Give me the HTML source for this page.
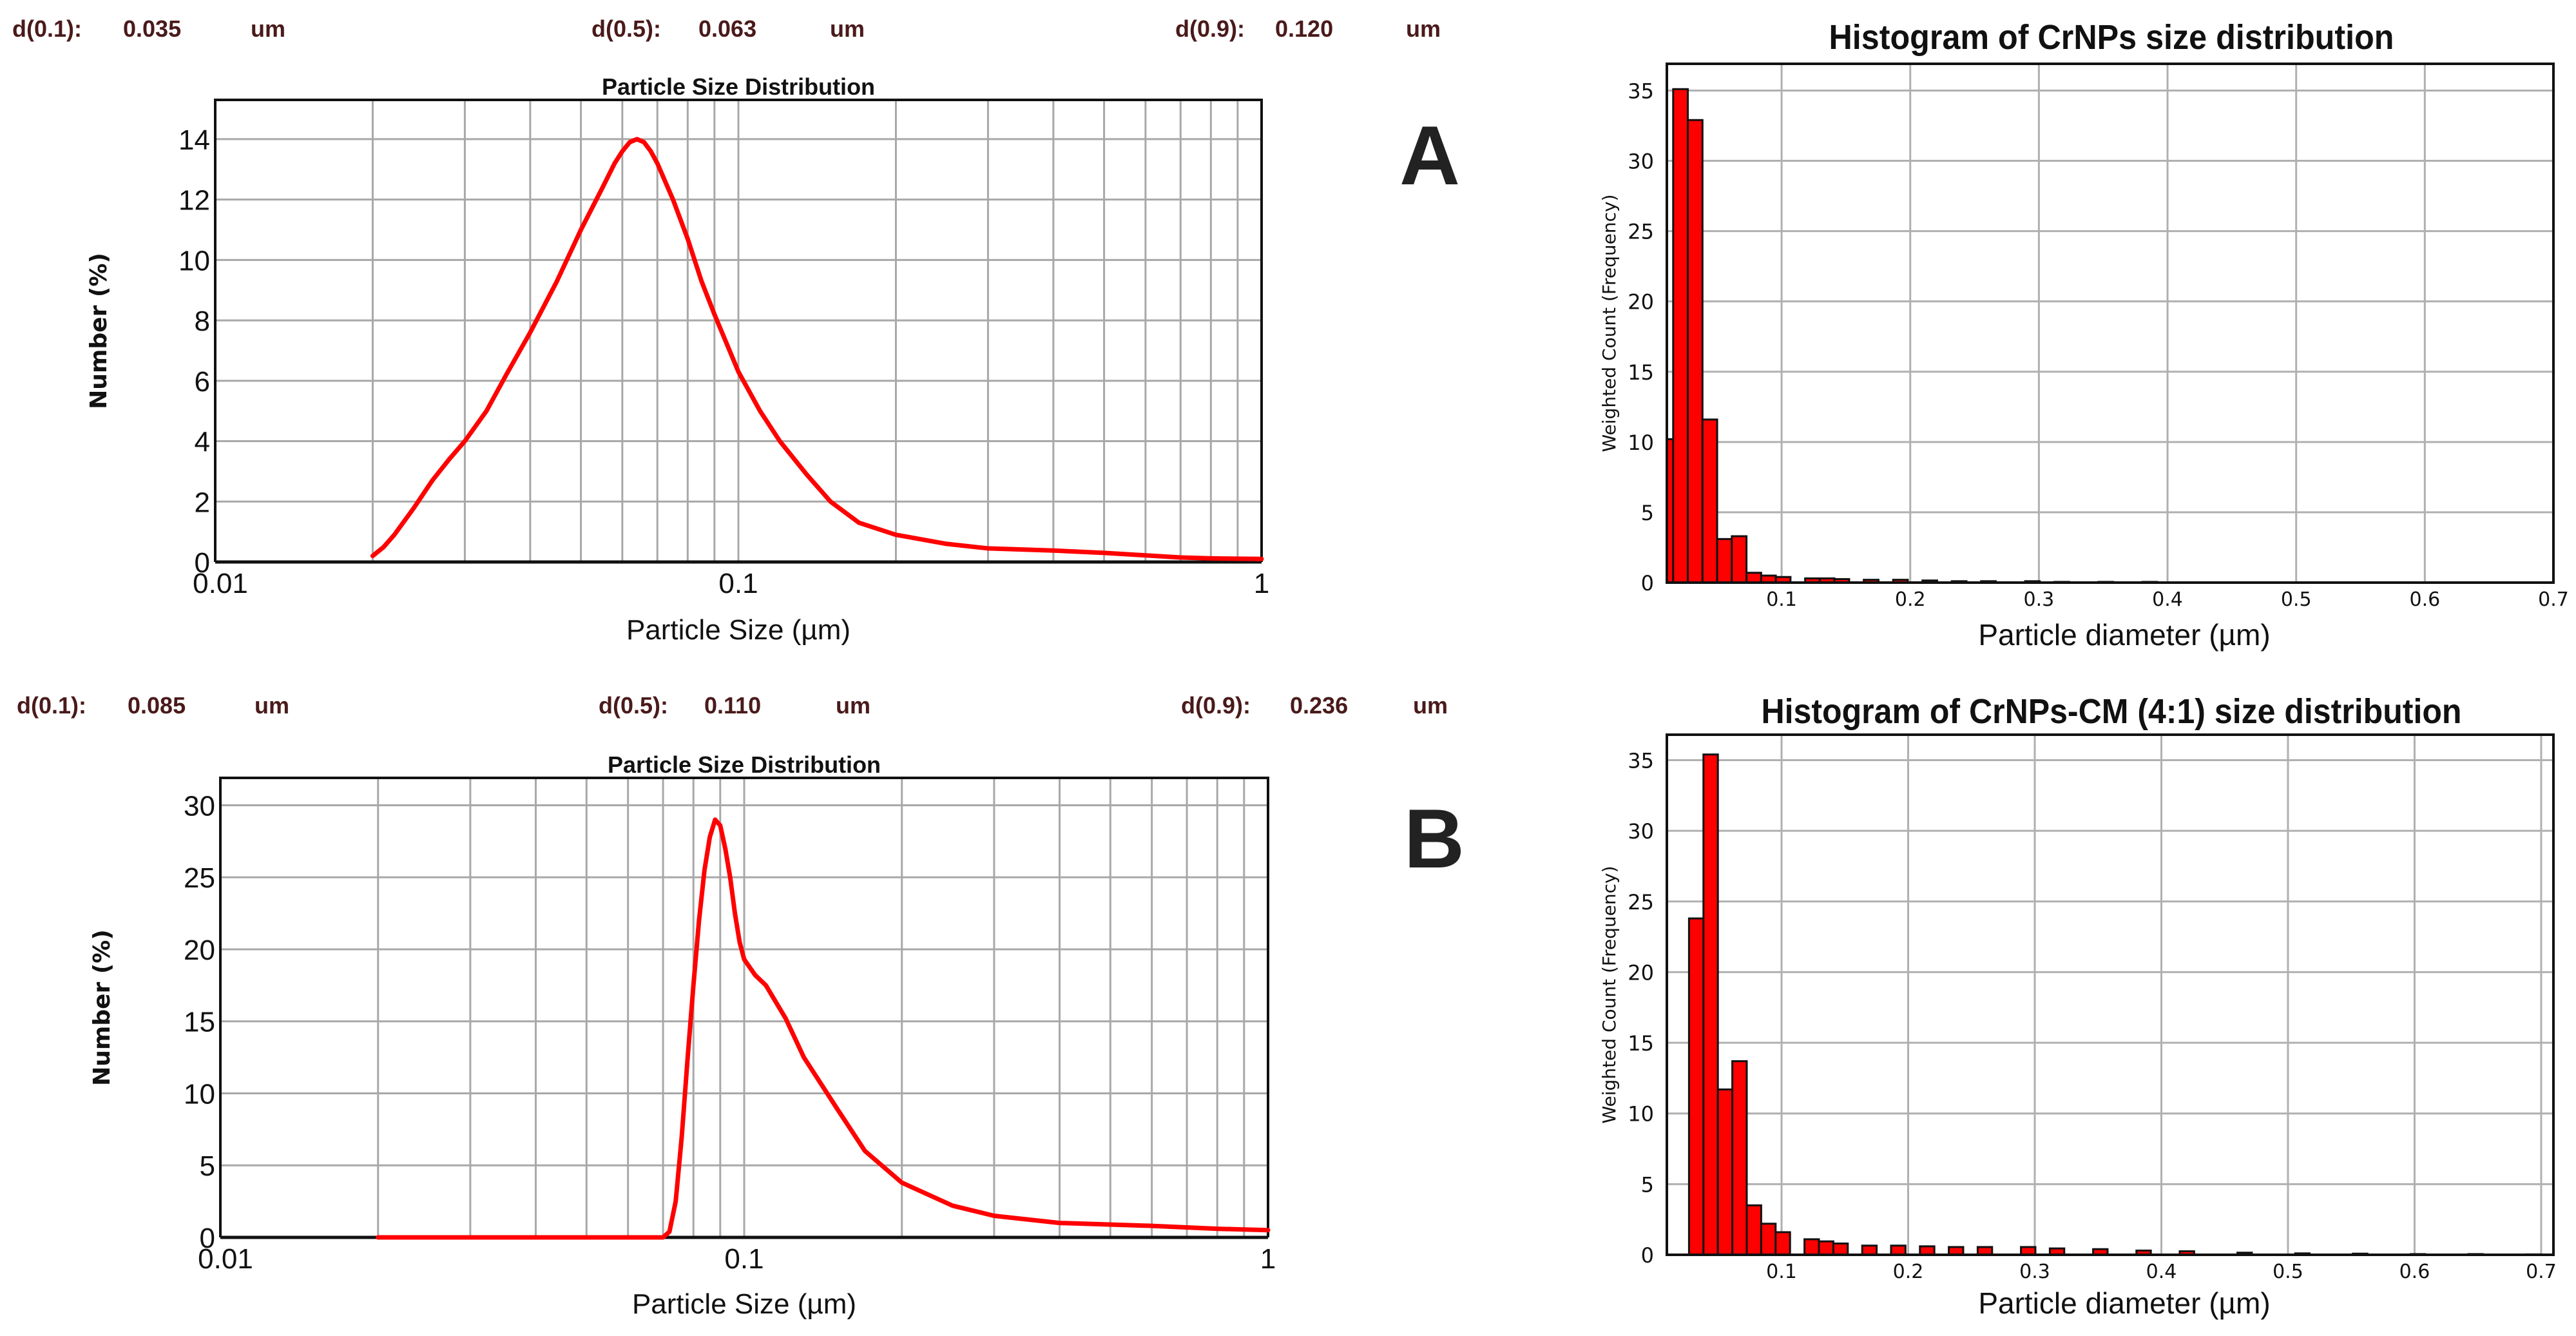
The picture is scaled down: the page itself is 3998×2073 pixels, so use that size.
<!DOCTYPE html>
<html><head><meta charset="utf-8"><style>
html,body{margin:0;padding:0;background:#fff}
svg{display:block}
.nar{font-family:"Liberation Sans Narrow","Liberation Sans",sans-serif}
</style></head><body>
<svg id="fig" width="3998" height="2073" viewBox="0 0 3998 2073" xmlns="http://www.w3.org/2000/svg">
<rect width="3998" height="2073" fill="#fff"/>
<g class="nar" fill="#4a1a1a" font-weight="bold" font-size="36">
<text x="19" y="57">d(0.1):</text><text x="191" y="57">0.035</text><text x="389" y="57">um</text>
<text x="918" y="57">d(0.5):</text><text x="1084" y="57">0.063</text><text x="1288" y="57">um</text>
<text x="1824" y="57">d(0.9):</text><text x="1979" y="57">0.120</text><text x="2182" y="57">um</text>
</g>
<g class="nar" fill="#4a1a1a" font-weight="bold" font-size="36">
<text x="26" y="1107">d(0.1):</text><text x="198" y="1107">0.085</text><text x="395" y="1107">um</text>
<text x="929" y="1107">d(0.5):</text><text x="1093" y="1107">0.110</text><text x="1297" y="1107">um</text>
<text x="1833" y="1107">d(0.9):</text><text x="2002" y="1107">0.236</text><text x="2193" y="1107">um</text>
</g>
<text x="2219" y="286" font-family="Liberation Sans,sans-serif" font-weight="bold" font-size="130" fill="#222" text-anchor="middle">A</text>
<text x="2226" y="1346" font-family="Liberation Sans,sans-serif" font-weight="bold" font-size="130" fill="#222" text-anchor="middle">B</text>
</svg>
<script>
// ---- data ----
const psdAx = [0.02,0.021,0.022,0.024,0.026,0.028,0.03,0.033,0.036,0.04,0.045,0.05,0.055,0.058,0.06,0.062,0.064,0.066,0.068,0.07,0.075,0.08,0.085,0.09,0.1,0.11,0.12,0.135,0.15,0.17,0.2,0.25,0.3,0.4,0.5,0.6,0.7,0.8,1.0];
const psdAy = [0.2,0.5,0.9,1.8,2.7,3.4,4.0,5.0,6.2,7.6,9.3,11.0,12.4,13.2,13.6,13.9,14.0,13.9,13.6,13.2,12.0,10.7,9.3,8.2,6.3,5.0,4.0,2.9,2.0,1.3,0.9,0.6,0.45,0.38,0.3,0.22,0.15,0.12,0.1];
const psdBx = [0.02,0.03,0.05,0.07,0.072,0.074,0.076,0.078,0.08,0.082,0.084,0.086,0.088,0.09,0.092,0.094,0.096,0.098,0.1,0.105,0.11,0.12,0.13,0.15,0.17,0.2,0.25,0.3,0.4,0.6,0.8,1.0];
const psdBy = [0,0,0,0,0.4,2.5,7,12.5,17.5,22,25.5,27.8,29,28.6,27,25,22.5,20.5,19.3,18.2,17.5,15.2,12.5,9,6,3.8,2.2,1.5,1.0,0.8,0.6,0.5];
const yTicksA = [0,2,4,6,8,10,12,14];
const yTicksB = [0,5,10,15,20,25,30];
const xTickLabelsLog = ["0.01","0.1","1"];
const histAIdx = [0,1,2,3,4,5,6,7,8,10,11,12,14,16,18,20,22,25,27,30,33];
const histAVal = [10.2,35.1,32.9,11.6,3.1,3.3,0.7,0.5,0.4,0.3,0.3,0.25,0.2,0.2,0.15,0.1,0.1,0.1,0.05,0.05,0.05];
const histBIdx = [0,1,2,3,4,5,6,8,9,10,12,14,16,18,20,23,25,28,31,34,38,42,46,50,54,58];
const histBVal = [23.8,35.4,11.7,13.7,3.5,2.2,1.6,1.1,0.95,0.8,0.65,0.65,0.6,0.55,0.55,0.55,0.45,0.4,0.3,0.25,0.15,0.1,0.08,0.05,0.05,0.03];
const histYTicks = [0,5,10,15,20,25,30,35];
const histXTicks = [0.1,0.2,0.3,0.4,0.5,0.6,0.7];

const NS="http://www.w3.org/2000/svg";
const svg=document.getElementById('fig');
function mk(tag,attrs,parent){const e=document.createElementNS(NS,tag);for(const k in attrs)e.setAttribute(k,attrs[k]);(parent||svg).appendChild(e);return e;}

function logChart(o){
  const g=mk('g',{});
  
  
  const sx=v=>o.x0+(Math.log10(v)+2)/2*(o.x1-o.x0);
  const sy=v=>o.y1-(v/o.ymax)*(o.y1-o.y0);
  for(let d=0;d<2;d++)for(let m=2;m<=9;m++){
    const l=mk('line',{x1:sx(m*Math.pow(10,d-2)),x2:sx(m*Math.pow(10,d-2)),y1:o.y0,y2:o.y1,stroke:'#a8a8a8','stroke-width':3},g);
    
    
  }
  const l1=mk('line',{x1:sx(0.1),x2:sx(0.1),y1:o.y0,y2:o.y1,stroke:'#a8a8a8','stroke-width':3},g);
  
  
  o.yt.forEach(t=>{
    if(t>0){const l=mk('line',{x1:o.x0,x2:o.x1,y1:sy(t),y2:sy(t),stroke:'#a8a8a8','stroke-width':3},g);
    
    }
    const tx=mk('text',{x:o.x0-8,y:sy(t)+16,'text-anchor':'end','font-size':44,fill:'#111',class:'nar'},g);
    
    
    tx.textContent=t;
  });
  [0.01,0.1,1].forEach((v,i)=>{
    const tx=mk('text',{x:sx(v)+(i==0?8:0),y:o.y1+48,'text-anchor':'middle','font-size':44,fill:'#111',class:'nar'},g);
    
    
    tx.textContent=xTickLabelsLog[i];
  });
  const fr=mk('path',{d:`M${o.x0},${o.y1}V${o.y0}H${o.x1}V${o.y1}`,fill:'none',stroke:'#111','stroke-width':4},g);
  
  
  const ax=mk('line',{x1:o.x0,x2:o.x1,y1:o.y1,y2:o.y1,stroke:'#111','stroke-width':5},g);
  
  
  const pts=o.xs.map((x,i)=>sx(x).toFixed(1)+','+sy(o.ys[i]).toFixed(1)).join(' ');
  const pl=mk('polyline',{points:pts,fill:'none',stroke:'#ff0000','stroke-width':7,'stroke-linejoin':'round','stroke-linecap':'round'},g);
  
  
  const t=mk('text',{x:(o.x0+o.x1)/2,y:o.y0-8,'text-anchor':'middle','font-size':36,'font-weight':'bold',fill:'#111',class:'nar'},g);
  
  
  t.textContent='Particle Size Distribution';
  const xt=mk('text',{x:(o.x0+o.x1)/2,y:o.xty,'text-anchor':'middle','font-size':44,fill:'#111',class:'nar'},g);
  
  
  xt.textContent='Particle Size (µm)';
  const yt=mk('text',{x:0,y:0,transform:`translate(${o.ytx},${(o.y0+o.y1)/2}) rotate(-90)`,'text-anchor':'middle','font-size':36,'font-weight':'bold',fill:'#111','font-family':'DejaVu Sans,sans-serif'},g);
  
  
  yt.textContent='Number (%)';
}
logChart({name:'psd-chart-a',x0:334,x1:1958,y0:155,y1:872,ymax:15.3,yt:yTicksA,xs:psdAx,ys:psdAy,xty:992,ytx:165});
logChart({name:'psd-chart-b',x0:342,x1:1968,y0:1207,y1:1920,ymax:31.9,yt:yTicksB,xs:psdBx,ys:psdBy,xty:2038,ytx:170});

function hist(o){
  const g=mk('g',{});
  
  
  const sx=v=>o.x0+(v-o.xmin)/(o.xmax-o.xmin)*(o.x1-o.x0);
  const sy=v=>o.y1-(v/o.ymax)*(o.y1-o.y0);
  histXTicks.forEach(t=>{
    const l=mk('line',{x1:sx(t),x2:sx(t),y1:o.y0,y2:o.y1,stroke:'#b0b0b0','stroke-width':3},g);
    
    
    const tx=mk('text',{x:sx(t),y:o.y1+36,'text-anchor':'middle','font-size':30,fill:'#111','font-family':'DejaVu Sans,sans-serif'},g);
    
    
    tx.textContent=t;
  });
  histYTicks.forEach(t=>{
    if(t>0){const l=mk('line',{x1:o.x0,x2:o.x1,y1:sy(t),y2:sy(t),stroke:'#b0b0b0','stroke-width':3},g);
    
    }
    const tx=mk('text',{x:o.x0-20,y:sy(t)+12,'text-anchor':'end','font-size':32,fill:'#111','font-family':'DejaVu Sans,sans-serif'},g);
    
    
    tx.textContent=t;
  });
  o.idx.forEach((b,i)=>{
    let a=o.start+b*o.w, e=a+o.w;
    a=Math.max(a,o.xmin);
    const r=mk('rect',{x:sx(a),y:sy(o.vals[i]),width:sx(e)-sx(a),height:sy(0)-sy(o.vals[i]),fill:'#ff0000',stroke:'#111','stroke-width':3},g);
    
    
  });
  const fr=mk('rect',{x:o.x0,y:o.y0,width:o.x1-o.x0,height:o.y1-o.y0,fill:'none',stroke:'#111','stroke-width':4},g);
  
  
  const t=mk('text',{x:3277,y:o.ty,'text-anchor':'middle','font-size':54,'font-weight':'bold',fill:'#111',class:'nar',textLength:o.tl,lengthAdjust:'spacingAndGlyphs'},g);
  
  
  t.textContent=o.title;
  const xt=mk('text',{x:3297,y:o.xty,'text-anchor':'middle','font-size':46,fill:'#111',class:'nar'},g);
  
  
  xt.textContent='Particle diameter (µm)';
  const yt=mk('text',{x:0,y:0,transform:`translate(2507,${(o.y0+o.y1)/2}) rotate(-90)`,'text-anchor':'middle','font-size':28,fill:'#111','font-family':'DejaVu Sans,sans-serif'},g);
  
  
  yt.textContent='Weighted Count (Frequency)';
}
hist({name:'histogram-a',x0:2587,x1:3963,y0:99,y1:904,xmin:0.0108,xmax:0.7,ymax:36.9,start:0.0043,w:0.0114,idx:histAIdx,vals:histAVal,title:'Histogram  of CrNPs size distribution',ty:76,xty:1001,tl:877});
hist({name:'histogram-b',x0:2587,x1:3963,y0:1140,y1:1947,xmin:0.0094,xmax:0.7097,ymax:36.8,start:0.0269,w:0.0114,idx:histBIdx,vals:histBVal,title:'Histogram  of CrNPs-CM (4:1) size distribution',ty:1122,xty:2038,tl:1087});
</script>
</body></html>
